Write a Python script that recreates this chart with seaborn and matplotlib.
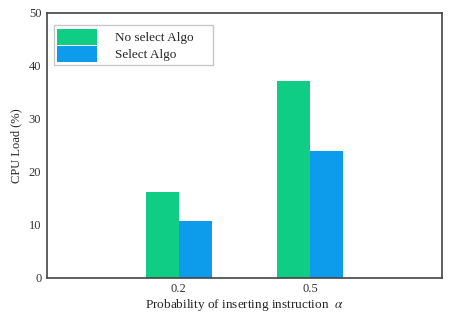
import pandas as pd
import matplotlib
matplotlib.use('Agg')
import matplotlib.pyplot as plt
import seaborn as sns

# 数据
probabilities = ['0.2', '0.5']
no_select_load = [16.2, 37.1]
select_load = [10.8, 24.0]
series_names = ['No select Algo', 'Select Algo']

df = pd.DataFrame({
    'Probability': probabilities * 2,
    'CPU Load (%)': no_select_load + select_load,
    'Algo': [series_names[0]] * 2 + [series_names[1]] * 2,
})

sns.set_style('white')
plt.rcParams['font.family'] = ['Liberation Serif', 'DejaVu Serif']
plt.rcParams['mathtext.fontset'] = 'stix'

fig = plt.figure(figsize=(4.51, 3.14), dpi=100)
ax = fig.add_axes([0.104, 0.115, 0.876, 0.844])

sns.barplot(x='Probability', y='CPU Load (%)', hue='Algo', data=df,
            palette=['#0fcd84', '#0d9bec'], width=0.5, saturation=1,
            linewidth=0, ax=ax)

ax.set_xlim(-1, 2)
ax.set_ylim(0, 50)
ax.set_yticks(range(0, 51, 10))
ax.tick_params(axis='both', length=0, labelsize=9, colors='#333333', pad=4)
ax.set_xlabel(r'Probability of inserting instruction  $\alpha$', fontsize=9.5, labelpad=1)
ax.set_ylabel('CPU Load (%)', fontsize=9, labelpad=5)
for s in ax.spines.values():
    s.set_color('#444444')
    s.set_linewidth(1.2)

leg = ax.legend(loc='upper left', bbox_to_anchor=(0.018, 0.5, 0.402, 0.453),
                mode='expand', borderaxespad=0, fontsize=9.5, frameon=True,
                fancybox=False, handlelength=3.0, handleheight=1.5,
                handletextpad=1.4, labelspacing=0.1, borderpad=0.25)
leg.get_frame().set_edgecolor('#bbbbbb')
leg.get_frame().set_linewidth(1.0)
for h in leg.legend_handles:
    h.set_linewidth(0)

plt.savefig('out.png', dpi=100)
